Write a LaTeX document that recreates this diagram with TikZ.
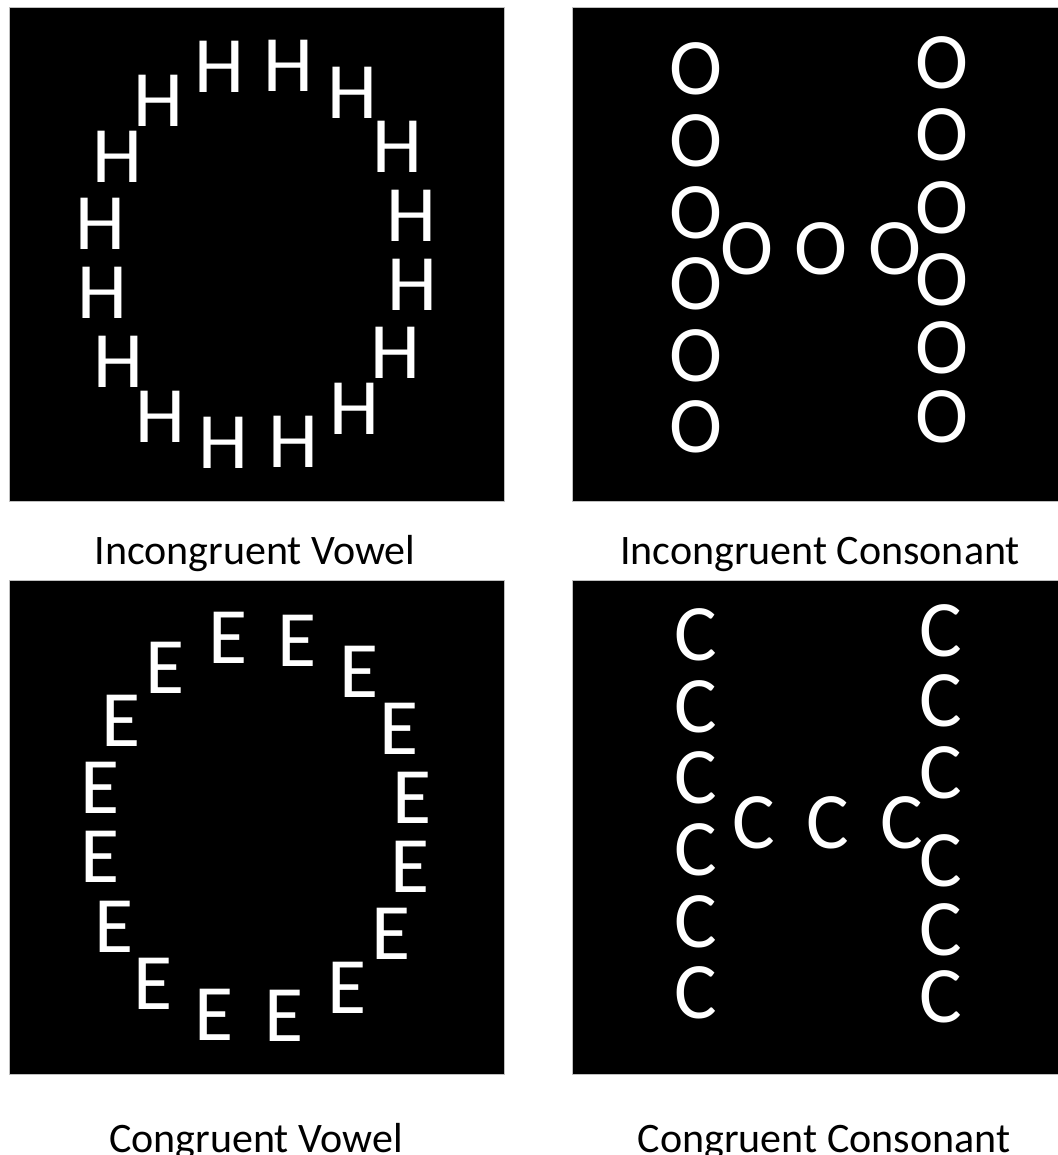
\documentclass[tikz,border=0pt]{standalone}
\usepackage{fontspec}
\setmainfont{Carlito}
\usetikzlibrary{positioning}
\newcommand{\lettersize}{\fontsize{80}{80}\selectfont}
\newcommand{\capsize}{\fontsize{42}{48}\selectfont}
\tikzset{
  panel/.style={fill=black,draw=black!25,line width=0.8pt},
  glyph/.style={text=white,inner sep=0pt,font=\lettersize},
  caption/.style={anchor=base,inner sep=0pt,font=\capsize},
}

\begin{document}
\begin{tikzpicture}[x=1pt,y=-1pt]
  \useasboundingbox (0,0) rectangle (1057,1155);
  % four stimulus panels
  \filldraw[panel] (9,7) rectangle (504,501);
  \filldraw[panel] (572,7) rectangle (1062,501);
  \filldraw[panel] (9,580) rectangle (504,1074);
  \filldraw[panel] (572,580) rectangle (1062,1074);
  % O made of H
  \foreach \i/\x/\y in {1/219/67,2/288/66,3/352/93,4/397/147,5/411/216,
      6/412/285,7/395/353,8/354/409,9/293/442,10/223/443,11/160/417,
      12/118/362,13/102/293,14/100/224,15/117/157,16/158/101}
    \node[glyph] (h\i) at (\x,\y) {H};
  % H made of O
  \foreach \i/\y in {1/69,2/141,3/213,4/284,5/356,6/427}
    \node[glyph] (ol\i) at (696,\y) {O};
  \foreach \i/\y in {1/63,2/135,3/208,4/280,5/348,6/417}
    \node[glyph] (or\i) at (942,\y) {O};
  \foreach \i/\x in {1/747,2/821,3/895}
    \node[glyph] (om\i) at (\x,249) {O};
  % O made of E
  \foreach \i/\x/\y in {1/228/638,2/297/641,3/359/672,4/399/729,5/412/798,
      6/410/867,7/391/934,8/347/988,9/284/1016,10/214/1015,11/153/984,
      12/114/927,13/100/857,14/100/788,15/121/721,16/165/668}
    \node[glyph] (e\i) at (\x,\y) {E};
  % H made of C
  \foreach \i/\y in {1/635,2/707,3/778,4/850,5/922,6/993}
    \node[glyph] (cl\i) at (696,\y) {C};
  \foreach \i/\y in {1/631,2/701,3/773,4/861,5/930,6/997}
    \node[glyph] (cr\i) at (941,\y) {C};
  \foreach \i/\x in {1/754,2/828,3/902}
    \node[glyph] (cm\i) at (\x,823) {C};
  % captions
  \node[caption] (capiv) at (255,564) {Incongruent Vowel};
  \node[caption] (capic) at (820,564) {Incongruent Consonant};
  \node[caption] (capcv) at (256,1152) {Congruent Vowel};
  \node[caption] (capcc) at (824,1152) {Congruent Consonant};
\end{tikzpicture}
\end{document}
